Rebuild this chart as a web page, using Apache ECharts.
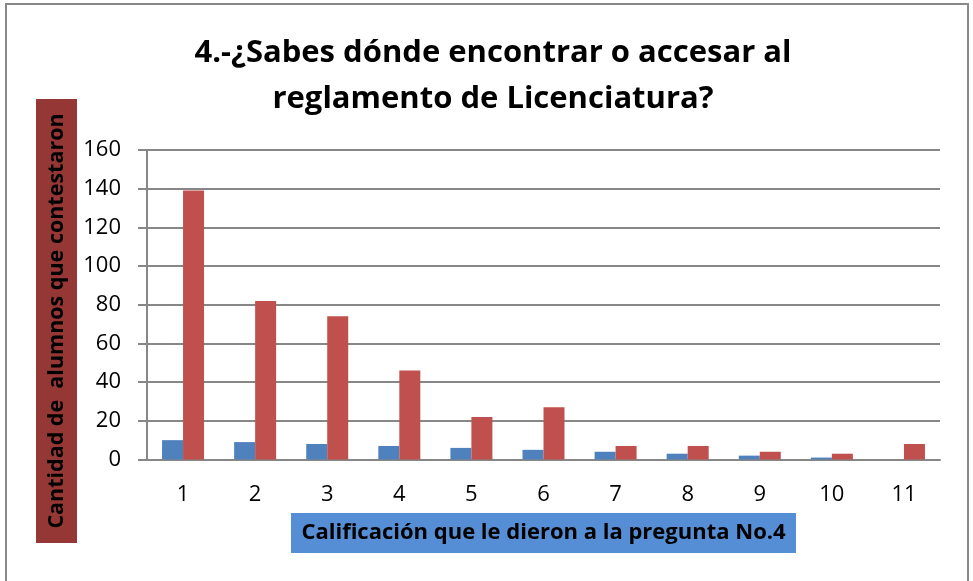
<!DOCTYPE html>
<html>
<head>
<meta charset="utf-8">
<script src="https://cdn.jsdelivr.net/npm/echarts@6/dist/echarts.min.js"></script>
<style>
	html, body { margin: 0; padding: 0; background: #fff; }
	#chart { width: 973px; height: 581px; }
</style>
</head>
<body>
<div id="chart"></div>
<script>
"use strict";
var categories = [ '1', '2', '3', '4', '5', '6', '7', '8', '9', '10', '11' ];
var blueValues = [ 10, 9, 8, 7, 6, 5, 4, 3, 2, 1, 0 ];
var redValues = [ 139, 82, 74, 46, 22, 27, 7, 7, 4, 3, 8 ];
var titleText = '4.-¿Sabes dónde encontrar o accesar al\nreglamento de Licenciatura?';
var yName = 'Cantidad de  alumnos que contestaron';
var xName = 'Calificación que le dieron a la pregunta No.4';

var fontFamily = '"Open Sans", "Noto Sans", sans-serif';
var gridColor = '#878787';

function drawChart() {
	var chart = echarts.init(document.getElementById('chart'));

	chart.setOption({
		animation : false,
		title : {
			text : titleText,
			left : 488,
			top : 25,
			textAlign : 'center',
			textStyle : {
				fontFamily : fontFamily,
				fontWeight : 'bold',
				fontSize : 31,
				lineHeight : 46,
				color : '#000'
			}
		},
		grid : {
			left : 147,
			right : 33,
			top : 150,
			bottom : 121.5,
			containLabel : false
		},
		xAxis : {
			type : 'category',
			data : categories,
			axisLine : {
				lineStyle : { color : gridColor, width : 2 }
			},
			axisTick : { show : false },
			axisLabel : {
				margin : 24,
				fontFamily : fontFamily,
				fontSize : 22,
				color : '#000'
			}
		},
		yAxis : {
			type : 'value',
			min : 0,
			max : 160,
			interval : 20,
			axisLine : {
				show : true,
				lineStyle : { color : gridColor, width : 2 }
			},
			axisTick : {
				show : true,
				length : 9,
				lineStyle : { color : gridColor, width : 2 }
			},
			splitLine : {
				lineStyle : { color : gridColor, width : 2 }
			},
			axisLabel : {
				margin : 26,
				fontFamily : fontFamily,
				fontSize : 22,
				color : '#000'
			}
		},
		series : [ {
			name : 'Serie 1',
			type : 'bar',
			data : blueValues,
			barWidth : 21,
			barGap : '0%',
			itemStyle : { color : '#4F81BD' }
		}, {
			name : 'Serie 2',
			type : 'bar',
			data : redValues,
			barWidth : 21,
			barGap : '0%',
			itemStyle : { color : '#C0504D' }
		} ],
		graphic : [ {
			type : 'rect',
			shape : { x : 6, y : 4, width : 962, height : 620 },
			style : { fill : null, stroke : '#898989', lineWidth : 2 },
			silent : true
		}, {
			type : 'rect',
			shape : { x : 36, y : 99, width : 41, height : 444 },
			style : { fill : '#953735' },
			silent : true
		}, {
			type : 'text',
			x : 57,
			y : 321,
			rotation : Math.PI / 2,
			style : {
				text : yName,
				fontFamily : fontFamily,
				fontWeight : 'bold',
				fontSize : 21.5,
				fill : '#000',
				align : 'center',
				verticalAlign : 'middle'
			},
			silent : true
		}, {
			type : 'rect',
			shape : { x : 291, y : 513, width : 505, height : 40 },
			style : { fill : '#558ED5' },
			silent : true
		}, {
			type : 'text',
			x : 543.5,
			y : 533,
			style : {
				text : xName,
				fontFamily : fontFamily,
				fontWeight : 'bold',
				fontSize : 22,
				fill : '#000',
				align : 'center',
				verticalAlign : 'middle'
			},
			silent : true
		} ]
	});
}

drawChart();
</script>
</body>
</html>
